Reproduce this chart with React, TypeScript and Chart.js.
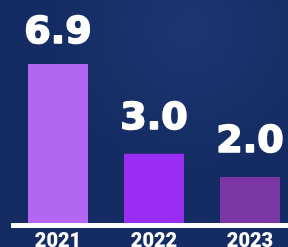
import React, { useEffect, useRef } from "react";
import { Chart, registerables } from "chart.js";

Chart.register(...registerables);

const categories = ["2021", "2022", "2023"];
const values = [6.9, 3.0, 2.0];
const valueLabels = ["6.9", "3.0", "2.0"];
const barColors = ["#B366F2", "#9B2CF2", "#7A36A4"];

const bgPlugin = {
  id: "bg",
  beforeDraw(chart: any) {
    const { ctx, width, height } = chart;
    ctx.save();
    ctx.fillStyle = "#142C63";
    ctx.fillRect(0, 0, width, height);
    const g = ctx.createRadialGradient(190, 30, 5, 190, 30, 140);
    g.addColorStop(0, "rgba(60,90,160,0.22)");
    g.addColorStop(1, "rgba(60,90,160,0)");
    ctx.fillStyle = g;
    ctx.fillRect(0, 0, width, height);
    ctx.restore();
  },
};

const overlayPlugin = {
  id: "overlay",
  afterDatasetsDraw(chart: any) {
    const { ctx, chartArea } = chart;
    ctx.save();
    // axis line
    ctx.fillStyle = "#FFFFFF";
    ctx.fillRect(chartArea.left + 1, chartArea.bottom, chartArea.right - chartArea.left, 5);
    // value labels
    const meta = chart.getDatasetMeta(0);
    ctx.font = "bold 38px 'DejaVu Sans'";
    ctx.textAlign = "center";
    ctx.textBaseline = "alphabetic";
    ctx.fillStyle = "#FFFFFF";
    ctx.strokeStyle = "#FFFFFF";
    ctx.lineWidth = 1.6;
    ctx.lineJoin = "round";
    meta.data.forEach((bar: any, i: number) => {
      const off = i === 0 ? 21 : 25;
      ctx.fillText(valueLabels[i], bar.x, bar.y - off);
      ctx.strokeText(valueLabels[i], bar.x, bar.y - off);
    });
    ctx.restore();
  },
};

export default function App() {
  const ref = useRef<HTMLCanvasElement>(null);
  useEffect(() => {
    if (!ref.current) return;
    const chart = new Chart(ref.current, {
      type: "bar",
      data: {
        labels: categories,
        datasets: [
          {
            data: values,
            backgroundColor: barColors,
            borderWidth: 0,
            categoryPercentage: 1,
            barPercentage: 0.625,
          },
        ],
      },
      options: {
        responsive: false,
        animation: false,
        layout: { padding: { left: 10, right: 2, top: 0, bottom: 0 } },
        plugins: { legend: { display: false }, tooltip: { enabled: false } },
        scales: {
          x: {
            grid: { display: false, drawTicks: false },
            border: { display: false },
            ticks: {
              color: "#FFFFFF",
              font: { family: "Roboto", size: 20, weight: "900" },
              padding: 7,
              maxRotation: 0,
            },
            afterFit: (scale: any) => {
              scale.height = 24;
            },
          },
          y: {
            display: false,
            min: 0,
            max: 9.67,
          },
        },
      },
      plugins: [bgPlugin, overlayPlugin],
    });
    return () => chart.destroy();
  }, []);
  return (
    <div style={{ position: "fixed", left: 0, top: 0, width: 288, height: 247, overflow: "hidden" }}>
      <canvas ref={ref} width={300} height={247} style={{ display: "block" }} />
    </div>
  );
}
